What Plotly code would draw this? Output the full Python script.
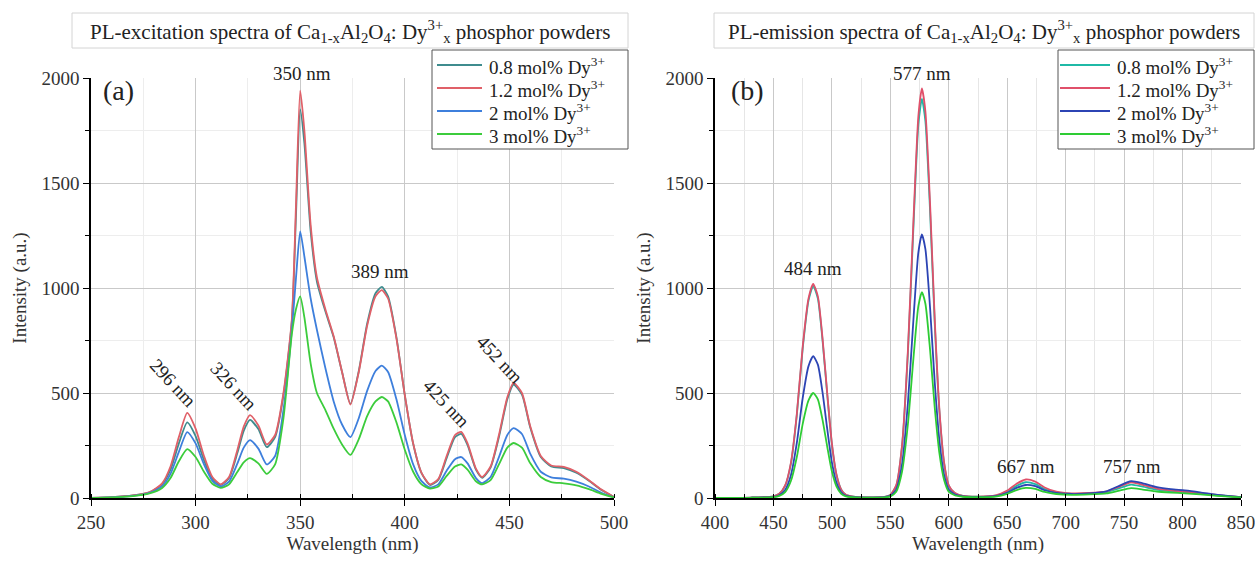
import plotly.graph_objects as go

# ---- PL excitation spectra (left panel) ----
ex_wavelength = [250, 260, 270, 278, 284, 288, 292, 296, 300, 304,
                 308, 312, 316, 320, 323, 326, 330, 334, 338, 342,
                 346, 348, 350, 352, 355, 358, 362, 366, 370, 374,
                 378, 382, 386, 389, 392, 396, 400, 404, 408, 412,
                 416, 420, 424, 427, 430, 434, 437, 441, 445, 449,
                 452, 456, 460, 465, 470, 476, 482, 488, 494, 500]

ex_08 = [0, 4, 12, 27, 65, 135, 260, 360, 295, 180,
         92, 62, 95, 215, 320, 372, 328, 242, 290, 490,
         840, 1350, 1850, 1690, 1270, 1030, 890, 765, 600, 448,
         605, 830, 975, 1005, 960, 765, 490, 258, 118, 62,
         86, 190, 290, 305, 252, 135, 96, 145, 290, 470,
         540, 492, 335, 195, 150, 142, 120, 82, 38, 5]

ex_12 = [0, 4, 12, 28, 70, 150, 290, 405, 330, 200,
         100, 65, 100, 230, 340, 395, 345, 255, 300, 500,
         850, 1400, 1940, 1750, 1300, 1050, 900, 770, 600, 445,
         600, 820, 960, 990, 950, 760, 490, 260, 120, 65,
         90, 200, 300, 315, 260, 140, 100, 150, 300, 480,
         548, 500, 340, 200, 155, 148, 125, 85, 40, 5]

ex_2 = [0, 3, 10, 24, 55, 115, 220, 314, 260, 160,
        82, 55, 78, 165, 240, 276, 235, 160, 200, 420,
        800, 1050, 1270, 1150, 950, 800, 620, 460, 350, 290,
        380, 510, 605, 630, 600, 470, 300, 160, 80, 50,
        65, 130, 185, 195, 165, 95, 71, 100, 195, 300,
        333, 305, 210, 125, 98, 92, 78, 55, 25, 3]

ex_3 = [0, 3, 9, 22, 48, 95, 175, 233, 195, 125,
        68, 48, 65, 125, 170, 190, 165, 115, 160, 380,
        780, 900, 960, 860, 640, 500, 420, 330, 255, 205,
        280, 390, 460, 481, 460, 360, 230, 125, 65, 45,
        55, 105, 150, 160, 135, 80, 65, 85, 160, 240,
        262, 240, 165, 100, 76, 70, 60, 42, 20, 3]

# ---- PL emission spectra (right panel) ----
em_wavelength = [400, 430, 450, 455, 460, 465, 470, 475, 480, 484,
                 488, 492, 496, 500, 504, 508, 512, 520, 535, 545,
                 550, 555, 560, 565, 570, 574, 577, 580, 584, 588,
                 592, 596, 600, 605, 612, 625, 640, 650, 658, 666,
                 674, 682, 692, 705, 720, 735, 745, 756, 766, 778,
                 790, 802, 815, 830, 850]

em_08 = [0, 2, 8, 20, 58, 165, 395, 710, 940, 1010,
         950, 750, 495, 255, 108, 40, 15, 5, 3, 5,
         15, 58, 245, 685, 1320, 1780, 1900, 1795, 1365, 830,
         410, 165, 58, 24, 10, 6, 11, 30, 58, 75,
         66, 43, 27, 20, 22, 28, 45, 64, 54, 40,
         32, 27, 21, 12, 4]

em_12 = [0, 2, 8, 20, 60, 170, 400, 720, 950, 1020,
         960, 760, 500, 260, 110, 40, 15, 5, 3, 5,
         15, 60, 250, 700, 1350, 1820, 1950, 1840, 1400, 850,
         420, 170, 60, 25, 10, 6, 12, 35, 68, 88,
         78, 50, 30, 22, 24, 32, 52, 75, 62, 45,
         36, 30, 24, 14, 4]

em_2 = [0, 1, 5, 13, 38, 110, 262, 475, 628, 675,
        635, 503, 330, 170, 72, 27, 10, 4, 2, 4,
        10, 40, 160, 450, 870, 1170, 1255, 1185, 905, 550,
        272, 110, 40, 17, 8, 5, 9, 25, 48, 62,
        56, 37, 24, 19, 22, 32, 56, 80, 70, 52,
        42, 36, 27, 15, 4]

em_3 = [0, 1, 4, 10, 28, 82, 195, 352, 465, 500,
        470, 372, 245, 127, 54, 20, 8, 3, 2, 3,
        8, 30, 125, 350, 680, 915, 980, 925, 705, 430,
        212, 86, 30, 13, 6, 4, 7, 20, 38, 48,
        43, 29, 19, 15, 17, 22, 34, 47, 40, 31,
        26, 22, 17, 10, 3]

series_names = ["0.8 mol% Dy<sup>3+</sup>", "1.2 mol% Dy<sup>3+</sup>",
                "2 mol% Dy<sup>3+</sup>", "3 mol% Dy<sup>3+</sup>"]
ex_colors = ["#3f8c8e", "#e06068", "#3e7fdc", "#3ccc3c"]
em_colors = ["#1fb9a6", "#e0506a", "#2c44b4", "#2ecc34"]

# peak labels: (text, x, y, angle, vertical anchor)
ex_labels = [("296 nm", 289, 548, 47, "middle"), ("326 nm", 318.5, 533, 47, "middle"),
             ("350 nm", 351, 1962, 0, "bottom"), ("389 nm", 388, 1080, 0, "middle"),
             ("425 nm", 420, 452, 47, "middle"), ("452 nm", 445.5, 660, 47, "middle")]
em_labels = [("484 nm", 484, 1095, 0, "middle"), ("577 nm", 577, 1962, 0, "bottom"),
             ("667 nm", 666, 150, 0, "middle"), ("757 nm", 757, 150, 0, "middle")]

SERIF = "Liberation Serif"
W, H = 1255, 561
TXT = "#222222"

fig = go.Figure()

for name, ys, col in zip(series_names, [ex_08, ex_12, ex_2, ex_3], ex_colors):
    fig.add_trace(go.Scatter(x=ex_wavelength, y=ys, name=name, mode="lines",
                             line=dict(color=col, width=1.8, shape="spline", smoothing=0.6),
                             xaxis="x", yaxis="y", showlegend=False))

for name, ys, col in zip(series_names, [em_08, em_12, em_2, em_3], em_colors):
    fig.add_trace(go.Scatter(x=em_wavelength, y=ys, name=name, mode="lines",
                             line=dict(color=col, width=1.8, shape="spline", smoothing=0.6),
                             xaxis="x2", yaxis="y2", showlegend=False))

ydom = [1 - 498 / H, 1 - 78 / H]

axis_common = dict(
    automargin=False,
    showline=True, linecolor="black", linewidth=1.5, mirror=False,
    ticks="outside", ticklen=6, tickwidth=1.2, tickcolor="black",
    showgrid=True, gridcolor="#c9c9c9", gridwidth=1,
    zeroline=False, ticklabeloverflow="allow",
    tickfont=dict(family=SERIF, size=19, color="#333333"),
    title_font=dict(family=SERIF, size=19, color="#333333"),
)

fig.update_layout(
    width=W, height=H,
    margin=dict(l=0, r=0, t=0, b=0),
    paper_bgcolor="white", plot_bgcolor="white",
    showlegend=False,
    xaxis=dict(axis_common, domain=[91 / W, 614 / W], range=[250, 500], dtick=50,
               anchor="y", title=dict(text="Wavelength (nm)", standoff=4),
               minor=dict(dtick=25, ticks="inside", ticklen=4, tickcolor="black",
                          showgrid=True, gridcolor="#ededed")),
    yaxis=dict(axis_common, domain=ydom, range=[0, 2000], dtick=500,
               anchor="x", title=dict(text="Intensity (a.u.)", standoff=10),
               minor=dict(dtick=250, ticks="outside", ticklen=4, tickcolor="black",
                          showgrid=True, gridcolor="#ededed")),
    xaxis2=dict(axis_common, domain=[715 / W, 1241 / W], range=[400, 850], dtick=50,
                anchor="y2", title=dict(text="Wavelength (nm)", standoff=4),
                minor=dict(dtick=25, ticks="inside", ticklen=4, tickcolor="black",
                           showgrid=True, gridcolor="#e6e6e6")),
    yaxis2=dict(axis_common, domain=ydom, range=[0, 2000], dtick=500,
                anchor="x2", title=dict(text="Intensity (a.u.)", standoff=10),
                minor=dict(dtick=250, ticks="outside", ticklen=4, tickcolor="black",
                           showgrid=True, gridcolor="#ededed")),
)

# framed panel titles
titles = [
    ("PL-excitation spectra of Ca<sub>1-x</sub>Al<sub>2</sub>O<sub>4</sub>: "
     "Dy<sup>3+</sup><sub>x</sub> phosphor powders", 72, 628),
    ("PL-emission spectra of Ca<sub>1-x</sub>Al<sub>2</sub>O<sub>4</sub>: "
     "Dy<sup>3+</sup><sub>x</sub> phosphor powders", 714, 1254),
]
for text, x0, x1 in titles:
    fig.add_shape(type="rect", xref="paper", yref="paper",
                  x0=x0 / W, x1=x1 / W, y0=1 - 48 / H, y1=1 - 13 / H,
                  line=dict(color="#d4d4d4", width=1), fillcolor="white", layer="above")
    fig.add_annotation(xref="paper", yref="paper", x=(x0 + x1) / 2 / W, y=1 - 31 / H,
                       text=text, showarrow=False, xanchor="center", yanchor="middle",
                       font=dict(family=SERIF, size=21, color=TXT))

# compact boxed legends (one per panel)
legend_rows = [65, 88, 111, 134]
for box_x0, box_x1, line_x0, line_x1, colors in [(432, 628, 437, 482, ex_colors),
                                                 (1058, 1254, 1060, 1110, em_colors)]:
    fig.add_shape(type="rect", xref="paper", yref="paper",
                  x0=box_x0 / W, x1=box_x1 / W, y0=1 - 149 / H, y1=1 - 50 / H,
                  line=dict(color="#555555", width=1), fillcolor="white", layer="above")
    for name, col, row in zip(series_names, colors, legend_rows):
        fig.add_shape(type="line", xref="paper", yref="paper",
                      x0=line_x0 / W, x1=line_x1 / W, y0=1 - row / H, y1=1 - row / H,
                      line=dict(color=col, width=2), layer="above")
        fig.add_annotation(xref="paper", yref="paper", x=(line_x1 + 5) / W, y=1 - (row + 1) / H,
                           text=name, showarrow=False, xanchor="left", yanchor="middle",
                           font=dict(family=SERIF, size=19, color=TXT))

# panel letters
fig.add_annotation(xref="x", yref="y", x=263, y=1940, text="(a)", showarrow=False,
                   font=dict(family=SERIF, size=28, color=TXT))
fig.add_annotation(xref="x2", yref="y2", x=428, y=1940, text="(b)", showarrow=False,
                   font=dict(family=SERIF, size=28, color=TXT))

# peak labels
for text, x, y, ang, ya in ex_labels:
    fig.add_annotation(xref="x", yref="y", x=x, y=y, text=text, showarrow=False,
                       textangle=ang, yanchor=ya,
                       font=dict(family=SERIF, size=19, color=TXT))
for text, x, y, ang, ya in em_labels:
    fig.add_annotation(xref="x2", yref="y2", x=x, y=y, text=text, showarrow=False,
                       textangle=ang, yanchor=ya,
                       font=dict(family=SERIF, size=19, color=TXT))

fig.write_html("out.html")
